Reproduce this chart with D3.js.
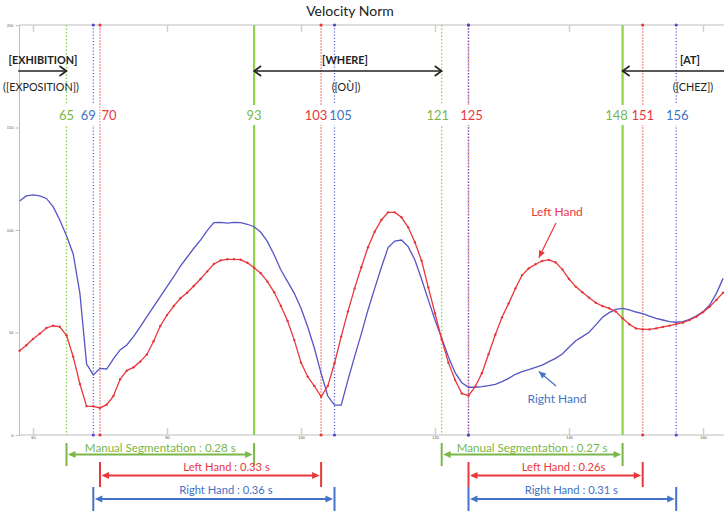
<!DOCTYPE html>
<html>
<head>
<meta charset="utf-8">
<script src="https://cdn.jsdelivr.net/npm/d3@7"></script>
<style>
  html, body { margin: 0; padding: 0; background: #fff; }
  svg { display: block; font-family: Lato, "Open Sans", sans-serif; }
</style>
</head>
<body>
<div id="chart"></div>
<script>
// ---------------- DATA ----------------
const title = "Velocity Norm";
const firstFrame = 58;
const leftHand = [41.1,43.8,46.8,49.4,52.2,53.3,52.8,48.6,38.2,24.9,14.1,14.0,13.2,14.8,19.0,27.2,31.4,33.0,35.8,39.3,
  45.7,53.2,58.5,62.9,66.7,69.4,72.7,76.1,79.8,83.4,85.2,85.7,85.7,85.5,84.0,81.6,78.9,74.8,69.6,62.9,
  55.6,46.3,35.3,28.4,23.9,18.7,23.9,35.0,48.0,60.2,71.5,81.8,91.6,99.2,104.9,108.6,108.6,106.2,101.3,94.0,
  85.0,72.0,59.4,46.7,35.3,26.8,20.3,19.2,23.6,30.1,39.5,48.9,57.4,64.2,71.5,78.0,81.3,83.3,84.9,85.4,
  84.2,80.8,76.1,72.4,69.6,67.0,64.5,62.9,61.8,60.2,56.9,54.0,52.0,51.5,51.5,52.0,52.7,53.3,54.1,54.8,
  56.1,57.7,59.9,62.6,65.9,69.4];
const rightHand = [114.1,116.6,117.1,116.6,115.4,111.4,104.9,97.2,88.3,69.1,34.6,29.3,32.5,32.2,37.1,41.5,43.9,48.0,52.8,57.7,
  62.6,67.5,72.4,77.2,82.4,86.7,91.1,95.1,99.7,103.6,103.7,103.4,103.7,103.6,102.8,101.6,98.9,94.3,87.8,80.5,
  74.8,69.1,61.8,52.8,42.3,30.1,19.0,14.6,14.6,26.8,38.2,49.3,61.0,71.5,81.8,91.4,94.6,95.1,91.9,85.4,
  76.0,65.9,56.1,47.2,38.2,30.4,25.5,23.3,23.3,23.6,24.1,24.7,26.0,27.6,29.6,30.9,31.9,33.0,34.1,35.8,
  37.4,39.5,42.8,46.0,48.0,50.1,53.7,57.4,59.7,61.3,61.8,61.0,60.0,59.2,58.0,56.9,56.1,55.3,55.0,55.3,
  56.4,58.0,60.2,63.4,69.1,76.4];
const xTicks = [60, 80, 100, 120, 140, 160];
const yTicks = [0, 50, 100, 150, 200];
// segment boundaries (frames): [start, end] per word
const manualSeg = [[65, 93], [121, 148]];
const leftSeg   = [[70, 103], [125, 151]];
const rightSeg  = [[69, 105], [125, 156]];
const words = ["[EXHIBITION]", "[WHERE]", "[AT]"];
const translations = ["([EXPOSITION])", "([OÙ])", "([CHEZ])"];
const manualDur = ["Manual Segmentation : 0.28 s", "Manual Segmentation : 0.27 s"];
const leftDur   = ["Left Hand : 0.33 s", "Left Hand : 0.26s"];
const rightDur  = ["Right Hand : 0.36 s", "Right Hand : 0.31 s"];

// ---------------- STYLE ----------------
const W = 724, H = 511;
const C = {
  green: "#92d050", greenText: "#7ab648",
  red: "#e8383d", pink: "#f6a5a5",
  blueLine: "#5555c4", blueDot: "#4a4ad0", blueText: "#4472c4",
  axis: "#bdbdbd", black: "#222"
};

const svg = d3.select("#chart").append("svg").attr("width", W).attr("height", H);

const x = d3.scaleLinear().domain([60, 160]).range([33, 703]);
const y = d3.scaleLinear().domain([0, 200]).range([435, 25]);
const plotL = 19.5, plotR = W, plotT = y(200), plotB = y(0);

// ---- title
svg.append("text").attr("x", 350).attr("y", 16).attr("text-anchor", "middle")
  .attr("font-size", 14).attr("fill", "#222").text(title);

// ---- axes frame
const ax = svg.append("g");
ax.append("line").attr("x1", plotL).attr("x2", plotR).attr("y1", plotT).attr("y2", plotT).attr("stroke", C.axis);
ax.append("line").attr("x1", plotL).attr("x2", plotR).attr("y1", plotB).attr("y2", plotB).attr("stroke", C.axis);
ax.append("line").attr("x1", plotL).attr("x2", plotL).attr("y1", plotT).attr("y2", plotB).attr("stroke", C.axis);

// bottom axis (ticks inside, tiny labels)
const xb = svg.append("g").attr("transform", `translate(0,${plotB})`)
  .call(d3.axisBottom(x).tickValues(xTicks).tickSizeInner(-7).tickSizeOuter(0).tickPadding(1.5));
xb.select(".domain").remove();
xb.selectAll("line").attr("stroke", "#d0d0d0").attr("stroke-width", 1.5);
xb.selectAll("text").attr("font-size", 4).attr("fill", "#555");
// top ticks
const xt = svg.append("g").attr("transform", `translate(0,${plotT})`)
  .call(d3.axisTop(x).tickValues(xTicks).tickSizeInner(-7).tickSizeOuter(0).tickFormat(""));
xt.select(".domain").remove();
xt.selectAll("line").attr("stroke", "#d0d0d0").attr("stroke-width", 1.5);
// left axis
const yl = svg.append("g").attr("transform", `translate(${plotL},0)`)
  .call(d3.axisLeft(y).tickValues(yTicks).tickSizeInner(4).tickSizeOuter(0).tickPadding(2));
yl.select(".domain").remove();
yl.selectAll("line").attr("stroke", C.axis);
yl.selectAll("text").attr("font-size", 4).attr("fill", "#555");

// ---- vertical segmentation lines
const vg = svg.append("g");
function vline(f, color, dash, width, dots) {
  vg.append("line").attr("x1", x(f)).attr("x2", x(f)).attr("y1", plotT).attr("y2", plotB)
    .attr("stroke", color).attr("stroke-width", width).attr("stroke-dasharray", dash);
  if (dots) {
    [plotT, plotB].forEach(yy => vg.append("circle").attr("cx", x(f)).attr("cy", yy).attr("r", 1.6).attr("fill", dots));
  }
}
manualSeg.forEach(([s, e]) => {
  vline(s, C.green, "1.5,2", 1.3, null);
  vline(e, C.green, null, 2.2, null);
});
leftSeg.forEach(([s, e]) => { vline(s, C.pink, "2,1", 1.6, C.red); vline(e, C.pink, "2,1", 1.6, C.red); });
rightSeg.forEach(([s, e]) => { vline(s, C.blueDot, "1,2.2", 1.3, C.blueDot); vline(e, C.blueDot, "1,2.2", 1.3, C.blueDot); });

// ---- curves
const line = d3.line().x((d, i) => x(firstFrame + i)).y(d => y(d));
svg.append("path").datum(rightHand).attr("d", line).attr("fill", "none")
  .attr("stroke", C.blueLine).attr("stroke-width", 1.3);
svg.append("path").datum(leftHand).attr("d", line).attr("fill", "none")
  .attr("stroke", C.red).attr("stroke-width", 1.3);
svg.append("g").selectAll("circle").data(leftHand).join("circle")
  .attr("cx", (d, i) => x(firstFrame + i)).attr("cy", d => y(d)).attr("r", 1.2).attr("fill", C.red);

// ---- frame number labels with white background
const labelNudge = { manual: [0, 0, -4, -6], left: [9, -5, 3, 0], right: [-5, 6, null, 1] };
const labels = [];
manualSeg.flat().forEach((f, i) => labels.push({ f, c: C.greenText, dx: labelNudge.manual[i] }));
leftSeg.flat().forEach((f, i) => labels.push({ f, c: C.red, dx: labelNudge.left[i] }));
rightSeg.flat().forEach((f, i) => { if (labelNudge.right[i] !== null) labels.push({ f, c: C.blueText, dx: labelNudge.right[i] }); });
const lg = svg.append("g");
labels.forEach(l => {
  const t = lg.append("text").attr("x", x(l.f) + l.dx).attr("y", 120).attr("text-anchor", "middle")
    .attr("font-size", 13).attr("fill", l.c).text(l.f);
  const b = t.node().getBBox();
  lg.insert("rect", "text").attr("x", b.x - 1).attr("y", 105).attr("width", b.width + 2).attr("height", 20).attr("fill", "#fff");
});

// ---- top word annotations
const wg = svg.append("g");
function chevron(px, py, dir) {
  wg.append("path").attr("d", `M${px - dir * 7},${py - 5}L${px},${py}L${px - dir * 7},${py + 5}`)
    .attr("fill", "none").attr("stroke", C.black).attr("stroke-width", 1.6);
}
const arrowY = 71;
const wordSpans = [[x(57.8), x(manualSeg[0][0])], [x(manualSeg[0][1]), x(manualSeg[1][0])], [x(manualSeg[1][1]), W]];
const wordCx = [43, 345, 690];
const transCx = [41, 346, 693];
wordSpans.forEach(([a, b], i) => {
  wg.append("line").attr("x1", a).attr("x2", b).attr("y1", arrowY).attr("y2", arrowY)
    .attr("stroke", C.black).attr("stroke-width", 1.6);
  if (i < 2) chevron(b, arrowY, 1);
  if (i > 0) chevron(a, arrowY, -1);
  wg.append("text").attr("x", wordCx[i]).attr("y", 64).attr("text-anchor", "middle")
    .attr("font-size", 10.8).attr("font-weight", "bold").attr("fill", C.black).text(words[i]);
  wg.append("text").attr("x", transCx[i]).attr("y", 91).attr("text-anchor", "middle")
    .attr("font-size", 10.8).attr("fill", C.black).text(translations[i]);
});

// ---- duration brackets
const bg = svg.append("g");
function bracket(seg, txt, color, tickTop, tickBot, ay, ty, fs, tdx) {
  const a = x(seg[0]), b = x(seg[1]);
  [a, b].forEach(xx => bg.append("line").attr("x1", xx).attr("x2", xx).attr("y1", tickTop).attr("y2", tickBot)
    .attr("stroke", color).attr("stroke-width", 2));
  bg.append("line").attr("x1", a + 4).attr("x2", b - 4).attr("y1", ay).attr("y2", ay)
    .attr("stroke", color).attr("stroke-width", 1.8);
  bg.append("path").attr("d", `M${a + 1.5},${ay}L${a + 9},${ay - 3.5}L${a + 9},${ay + 3.5}Z`).attr("fill", color);
  bg.append("path").attr("d", `M${b - 1.5},${ay}L${b - 9},${ay - 3.5}L${b - 9},${ay + 3.5}Z`).attr("fill", color);
  bg.append("text").attr("x", (a + b) / 2 + tdx).attr("y", ty).attr("text-anchor", "middle")
    .attr("font-size", fs).attr("fill", color).text(txt);
}
const textShift = { manual: [0, 0], left: [16, 8], right: [12, -1] };
manualSeg.forEach((s, i) => bracket(s, manualDur[i], C.greenText, 443, 466, 454.5, 452, 11.6, textShift.manual[i]));
leftSeg.forEach((s, i) => bracket(s, leftDur[i], C.red, 462, 487, 475.5, 471, 11.2, textShift.left[i]));
rightSeg.forEach((s, i) => bracket(s, rightDur[i], C.blueText, 487, 511, 499, 494, 11.2, textShift.right[i]));

// ---- curve call-outs
const cg = svg.append("g");
function callout(txt, color, tx, ty, fx, fy, frame, val) {
  const ex = x(frame), ey = y(val);
  cg.append("text").attr("x", tx).attr("y", ty).attr("text-anchor", "middle")
    .attr("font-size", 12).attr("fill", color).text(txt);
  cg.append("line").attr("x1", fx).attr("y1", fy).attr("x2", ex).attr("y2", ey)
    .attr("stroke", color).attr("stroke-width", 1.2);
  const ang = Math.atan2(ey - fy, ex - fx);
  const L = 7, Wd = 3.2;
  const p1 = [ex - L * Math.cos(ang) + Wd * Math.sin(ang), ey - L * Math.sin(ang) - Wd * Math.cos(ang)];
  const p2 = [ex - L * Math.cos(ang) - Wd * Math.sin(ang), ey - L * Math.sin(ang) + Wd * Math.cos(ang)];
  cg.append("path").attr("d", `M${ex},${ey}L${p1}L${p2}Z`).attr("fill", color);
}
callout("Left Hand", C.red, 557, 216, 556, 223, 135.5, 86.5);
callout("Right Hand", C.blueText, 557, 403, 556, 386, 135.5, 31);
</script>
</body>
</html>
